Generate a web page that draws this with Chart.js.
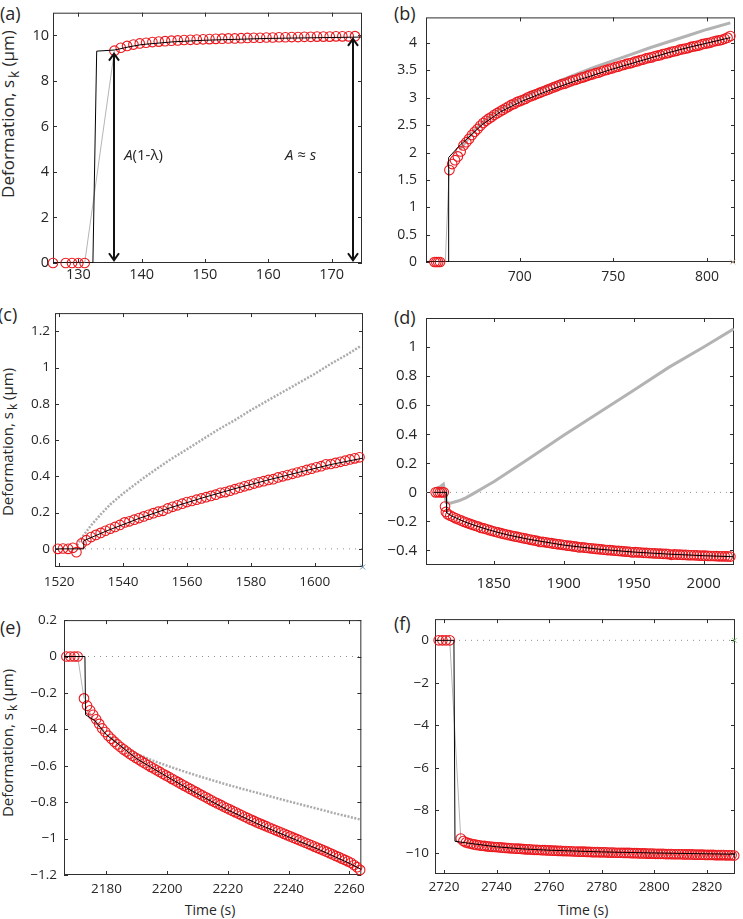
<!DOCTYPE html>
<html>
<head>
<meta charset="utf-8">
<script src="https://cdn.jsdelivr.net/npm/chart.js@4.4.1/dist/chart.umd.min.js"></script>
<style>
  body { margin: 0; background: #fff; width: 743px; height: 919px; position: relative; overflow: hidden;
         font-family: 'Open Sans', sans-serif; color: #262626; }
  .panel { position: absolute; }
  .lab { position: absolute; font-size: 18px; line-height: 1; transform: translateY(-50%); white-space: nowrap; }
  .ylab { position: absolute; white-space: nowrap; line-height: 1; transform: translate(-50%, -50%) rotate(-90deg); }
  .ylab sub { font-size: 0.8em; vertical-align: -0.35em; margin-left: 2px; }
  .xlab { position: absolute; white-space: nowrap; line-height: 1; transform: translate(-50%, -50%); font-size: 14px; }
</style>
</head>
<body>

<div class="lab" style="left:0px; top:13px;">(a)</div>
<div class="lab" style="left:394px; top:13px;">(b)</div>
<div class="lab" style="left:-2px; top:314px;">(c)</div>
<div class="lab" style="left:394px; top:317px;">(d)</div>
<div class="lab" style="left:0px; top:627px;">(e)</div>
<div class="lab" style="left:394px; top:623px;">(f)</div>

<div class="ylab" style="left:10px; top:114px; font-size:17px;">Deformation, s<sub>k</sub> (μm)</div>
<div class="ylab" style="left:10px; top:442px; font-size:15px;">Deformation, s<sub>k</sub> (μm)</div>
<div class="ylab" style="left:10px; top:743px; font-size:15px;">Deformation, s<sub>k</sub> (μm)</div>

<div class="xlab" style="left:210px; top:910px;">Time (s)</div>
<div class="xlab" style="left:583px; top:910px;">Time (s)</div>

<script>
// ---------- data: panel (a) ----------
const aPreT = [126, 128, 129, 130, 131];
const aPreY = [0, 0, 0, 0, 0];
const aRedT0 = 135.7, aRedDt = 1;
const aRedY = [9.33, 9.46, 9.54, 9.60, 9.65, 9.68, 9.71, 9.73, 9.75, 9.77,
               9.78, 9.80, 9.81, 9.82, 9.83, 9.84, 9.85, 9.86, 9.87, 9.87,
               9.88, 9.89, 9.90, 9.90, 9.91, 9.91, 9.92, 9.92, 9.93, 9.93,
               9.94, 9.94, 9.95, 9.95, 9.95, 9.96, 9.96, 9.96, 9.97];
const aFitT = [126, 132.3, 132.9, 135.7, 138, 140, 145, 150, 155, 160, 165, 170, 174.7];
const aFitY = [0, 0, 9.31, 9.36, 9.50, 9.60, 9.72, 9.79, 9.83, 9.87, 9.89, 9.91, 9.93];
const aGrayT = [131, 135.7];
const aGrayY = [0, 9.33];
const aArrowT = [135.7, 173.4];
const aArrowLo = [0.12, 0.12];
const aArrowHi = [9.2, 9.85];
const aNoteT = [140.3, 165.1];
const aNoteY = [4.72, 4.72];
const aNoteText = [[['A', 1], ['(1-λ)', 0]], [['A', 1], [' ≈ ', 0], ['s', 1]]];
const aXTicks = [130, 140, 150, 160, 170];
const aYTicks = [0, 2, 4, 6, 8, 10];

// ---------- data: panel (b) ----------
const bPreT = [654.5, 655.5, 656.5, 657.5];
const bPreY = [0, 0, 0, 0];
const bRedT0 = 662.5, bRedDt = 1.5;
const bRedY = [1.68, 1.79, 1.86, 1.93, 2.02, 2.13, 2.19, 2.25, 2.32, 2.38,
               2.43, 2.49, 2.54, 2.58, 2.62, 2.65, 2.69, 2.72, 2.75, 2.78,
               2.81, 2.84, 2.87, 2.89, 2.92, 2.94, 2.96, 2.98, 3.01, 3.03,
               3.05, 3.07, 3.09, 3.11, 3.13, 3.15, 3.17, 3.19, 3.21, 3.23,
               3.25, 3.26, 3.28, 3.30, 3.32, 3.33, 3.35, 3.37, 3.38, 3.40,
               3.42, 3.43, 3.45, 3.46, 3.48, 3.50, 3.51, 3.53, 3.54, 3.56,
               3.57, 3.59, 3.60, 3.62, 3.63, 3.64, 3.66, 3.67, 3.69, 3.70,
               3.72, 3.73, 3.74, 3.76, 3.77, 3.78, 3.80, 3.81, 3.82, 3.84,
               3.85, 3.86, 3.88, 3.89, 3.90, 3.91, 3.93, 3.94, 3.95, 3.96,
               3.98, 3.99, 4.00, 4.01, 4.03, 4.04, 4.05, 4.06, 4.08, 4.10,
               4.13];
const bFitT = [650, 661.9, 662.1, 668.3, 670, 675, 680, 690, 700, 710, 720, 730, 740, 750, 760, 770, 780, 790, 800, 812.5];
const bFitY = [0, 0, 1.91, 2.14, 2.19, 2.35, 2.51, 2.75, 2.92, 3.06, 3.19, 3.31, 3.42, 3.53, 3.63, 3.73, 3.83, 3.92, 4.00, 4.10];
const bJumpT = [660.3, 662.4];
const bJumpY = [0, 1.68];
const bGrayT = [668, 675, 680, 685, 690, 700, 710, 720, 730, 740, 750, 760, 770, 780, 790, 800, 812.5];
const bGrayY = [2.05, 2.37, 2.55, 2.69, 2.80, 2.98, 3.14, 3.29, 3.43, 3.56, 3.68, 3.80, 3.92, 4.03, 4.14, 4.25, 4.37];
const bMark = [813.8, 0];
const bXTicks = [700, 750, 800];
const bYTicks = [0, 0.5, 1, 1.5, 2, 2.5, 3, 3.5, 4];

// ---------- data: panel (c) ----------
const cPreT = [1519.6, 1521.2, 1522.8, 1524.3, 1525.4];
const cPreY = [0, 0.002, 0, 0.006, -0.018];
const cRedT0 = 1527, cRedDt = 1.5;
const cRedY = [0.030, 0.048, 0.065, 0.077, 0.088, 0.100, 0.111, 0.121, 0.132, 0.146,
               0.152, 0.161, 0.170, 0.179, 0.188, 0.197, 0.205, 0.210, 0.223, 0.232,
               0.240, 0.249, 0.258, 0.264, 0.271, 0.278, 0.285, 0.292, 0.299, 0.309,
               0.313, 0.321, 0.329, 0.337, 0.345, 0.352, 0.360, 0.367, 0.373, 0.380,
               0.384, 0.394, 0.400, 0.407, 0.414, 0.421, 0.428, 0.435, 0.442, 0.450,
               0.456, 0.466, 0.468, 0.474, 0.480, 0.486, 0.493, 0.499, 0.505];
const cFitT = [1518.7, 1527.5, 1527.7, 1535, 1545, 1555, 1565, 1575, 1585, 1595, 1605, 1615];
const cFitY = [0, 0, 0.045, 0.100, 0.168, 0.228, 0.282, 0.332, 0.378, 0.422, 0.465, 0.500];
const cGrayT = [1525.6, 1527, 1530, 1533, 1536, 1540, 1546, 1550, 1555, 1561, 1565, 1570, 1575, 1580, 1585, 1590, 1595, 1600, 1605, 1610, 1614.5];
const cGrayY = [0.02, 0.06, 0.13, 0.19, 0.245, 0.305, 0.385, 0.435, 0.495, 0.56, 0.605, 0.66, 0.71, 0.765, 0.815, 0.865, 0.915, 0.965, 1.02, 1.07, 1.12];
const cMark = [1615, -0.1];
const cXTicks = [1520, 1540, 1560, 1580, 1600];
const cYTicks = [0, 0.2, 0.4, 0.6, 0.8, 1, 1.2];

// ---------- data: panel (d) ----------
const dPreT = [1808.5, 1810, 1811.5, 1813, 1814.3, 1815.2, 1815.8];
const dPreY = [0, 0.003, 0, 0.002, 0, -0.098, -0.135];
const dRedT0 = 1817, dRedDt = 2;
const dRedY = [-0.150, -0.160, -0.170, -0.179, -0.187, -0.195, -0.203, -0.210, -0.217, -0.224,
               -0.230, -0.236, -0.245, -0.248, -0.254, -0.260, -0.266, -0.271, -0.276, -0.281,
               -0.286, -0.290, -0.295, -0.299, -0.303, -0.307, -0.311, -0.315, -0.319, -0.323,
               -0.327, -0.331, -0.334, -0.341, -0.341, -0.344, -0.347, -0.350, -0.353, -0.356,
               -0.358, -0.361, -0.364, -0.367, -0.369, -0.372, -0.374, -0.379, -0.378, -0.381,
               -0.383, -0.385, -0.387, -0.389, -0.391, -0.393, -0.395, -0.397, -0.398, -0.400,
               -0.402, -0.403, -0.405, -0.406, -0.408, -0.409, -0.413, -0.412, -0.413, -0.414,
               -0.416, -0.417, -0.418, -0.419, -0.420, -0.421, -0.422, -0.423, -0.424, -0.425,
               -0.430, -0.427, -0.428, -0.429, -0.430, -0.431, -0.432, -0.433, -0.433, -0.434,
               -0.435, -0.436, -0.436, -0.437, -0.438, -0.438, -0.439, -0.440, -0.440, -0.441,
               -0.441, -0.442];
const dFitT = [1807, 1816.1, 1816.3, 1820, 1830, 1840, 1850, 1860, 1875, 1900, 1925, 1950, 1975, 2000, 2021];
const dFitY = [0, 0, -0.14, -0.163, -0.206, -0.239, -0.268, -0.293, -0.323, -0.363, -0.391, -0.411, -0.425, -0.436, -0.443];
const dGrayT = [1809.3, 1814, 1816, 1819, 1825, 1830, 1837, 1845, 1850, 1875, 1900, 1925, 1950, 1975, 2000, 2021.5];
const dGrayY = [0.02, 0.055, -0.07, -0.075, -0.058, -0.038, 0, 0.045, 0.073, 0.232, 0.393, 0.548, 0.703, 0.86, 1.0, 1.125];
const dXTicks = [1850, 1900, 1950, 2000];
const dYTicks = [-0.4, -0.2, 0, 0.2, 0.4, 0.6, 0.8, 1];

// ---------- data: panel (e) ----------
const ePreT = [2166.8, 2168.1, 2169.4, 2170.5];
const ePreY = [0, 0, 0, 0];
const eRedT0 = 2172.6, eRedDt = 1;
const eRedY = [-0.230, -0.270, -0.295, -0.320, -0.345, -0.370, -0.395, -0.415, -0.435, -0.452,
               -0.468, -0.483, -0.497, -0.510, -0.522, -0.534, -0.545, -0.556, -0.566, -0.576,
               -0.586, -0.596, -0.606, -0.615, -0.625, -0.634, -0.644, -0.653, -0.662, -0.672,
               -0.681, -0.690, -0.700, -0.709, -0.718, -0.727, -0.736, -0.745, -0.754, -0.763,
               -0.772, -0.781, -0.790, -0.799, -0.807, -0.815, -0.824, -0.832, -0.840, -0.848,
               -0.856, -0.864, -0.872, -0.880, -0.888, -0.896, -0.903, -0.911, -0.918, -0.925,
               -0.932, -0.939, -0.946, -0.953, -0.960, -0.967, -0.974, -0.981, -0.988, -0.995,
               -1.002, -1.009, -1.016, -1.023, -1.030, -1.037, -1.044, -1.051, -1.058, -1.065,
               -1.072, -1.080, -1.087, -1.095, -1.102, -1.110, -1.117, -1.125, -1.133, -1.145,
               -1.157, -1.172];
const eFitT = [2166, 2172.9, 2173.1, 2176, 2178, 2180, 2190, 2200, 2210, 2220, 2230, 2240, 2250, 2260, 2264];
const eFitY = [0, 0, -0.32, -0.35, -0.39, -0.43, -0.562, -0.66, -0.755, -0.843, -0.92, -0.99, -1.06, -1.135, -1.17];
const eJumpT = [2170.5, 2172.6];
const eJumpY = [0, -0.23];
const eGrayT = [2173, 2176, 2180, 2185, 2190, 2195, 2200, 2205, 2210, 2215, 2220, 2225, 2230, 2235, 2240, 2245, 2250, 2255, 2260, 2264];
const eGrayY = [-0.28, -0.35, -0.43, -0.49, -0.535, -0.57, -0.60, -0.628, -0.655, -0.68, -0.705, -0.728, -0.75, -0.773, -0.795, -0.817, -0.838, -0.86, -0.88, -0.897];
const eXTicks = [2180, 2200, 2220, 2240, 2260];
const eYTicks = [-1.2, -1, -0.8, -0.6, -0.4, -0.2, 0, 0.2];

// ---------- data: panel (f) ----------
const fPreT = [2718, 2719.4, 2720.8, 2722.2];
const fPreY = [0, 0, 0, 0];
const fRedT0 = 2726.4, fRedDt = 1;
const fRedY = [-9.33, -9.45, -9.51, -9.55, -9.58, -9.61, -9.63, -9.65, -9.67, -9.68,
               -9.70, -9.71, -9.72, -9.73, -9.74, -9.75, -9.76, -9.77, -9.78, -9.79,
               -9.80, -9.81, -9.81, -9.82, -9.83, -9.84, -9.84, -9.85, -9.86, -9.86,
               -9.87, -9.88, -9.88, -9.89, -9.89, -9.90, -9.90, -9.91, -9.91, -9.92,
               -9.92, -9.93, -9.93, -9.94, -9.94, -9.95, -9.95, -9.95, -9.96, -9.96,
               -9.97, -9.97, -9.97, -9.98, -9.98, -9.98, -9.99, -9.99, -9.99, -10.00,
               -10.00, -10.00, -10.01, -10.01, -10.01, -10.02, -10.02, -10.02, -10.03, -10.03,
               -10.03, -10.04, -10.04, -10.04, -10.05, -10.05, -10.05, -10.05, -10.06, -10.06,
               -10.06, -10.07, -10.07, -10.07, -10.07, -10.08, -10.08, -10.08, -10.08, -10.09,
               -10.09, -10.09, -10.09, -10.10, -10.10, -10.10, -10.10, -10.11, -10.11, -10.11,
               -10.11, -10.12, -10.12, -10.12, -10.13];
const fFitT = [2716.6, 2723.8, 2724.2, 2730, 2740, 2750, 2760, 2780, 2800, 2820, 2831];
const fFitY = [0, 0, -9.46, -9.56, -9.72, -9.82, -9.88, -9.96, -10.01, -10.05, -10.07];
const fJumpT = [2722.2, 2726.4];
const fJumpY = [0, -9.33];
const fMark = [2830.5, 0];
const fXTicks = [2720, 2740, 2760, 2780, 2800, 2820];
const fYTicks = [-10, -8, -6, -4, -2, 0];

// ---------- layout / styles ----------
const RED = 'rgb(235,25,30)';
const INK = '#262626';
Chart.defaults.font.family = "'Open Sans', sans-serif";
Chart.defaults.color = INK;

function pairs(ts, ys) { return ts.map((t, i) => ({ x: t, y: ys[i] })); }
function run(t0, dt, ys) { return ys.map((y, i) => ({ x: t0 + i * dt, y: y })); }
const fmt = v => String(v).replace('-', '\u2212');

function circles(pts) {
  return { data: pts, showLine: false, pointStyle: 'circle', pointRadius: 4.8, pointBorderWidth: 1.1,
           pointBorderColor: RED, pointBackgroundColor: 'rgba(0,0,0,0)', clip: false };
}
function line(pts, color, width, dash) {
  return { data: pts, showLine: true, pointRadius: 0, borderColor: color, borderWidth: width,
           borderDash: dash || [], tension: 0, fill: false };
}
function mark(p, color) {
  return { data: [{ x: p[0], y: p[1] }], showLine: false, pointStyle: 'crossRot', pointRadius: 3.5,
           pointBorderColor: color, pointBorderWidth: 1, clip: false };
}
function zero(min, max) { return line([{ x: min, y: 0 }, { x: max, y: 0 }], '#8f8f8f', 1, [1, 5]); }

// box with inward ticks on all four sides
const frame = {
  id: 'frame',
  beforeDatasetsDraw(chart) {
    const { ctx, chartArea: a, scales: { x, y } } = chart;
    const L = 4;
    ctx.save();
    ctx.strokeStyle = '#2e2e2e';
    ctx.lineWidth = 1;
    ctx.strokeRect(a.left + 0.5, a.top + 0.5, a.width - 1, a.height - 1);
    ctx.beginPath();
    x.ticks.forEach(t => {
      const p = Math.round(x.getPixelForValue(t.value)) + 0.5;
      ctx.moveTo(p, a.bottom); ctx.lineTo(p, a.bottom - L);
      ctx.moveTo(p, a.top); ctx.lineTo(p, a.top + L);
    });
    y.ticks.forEach(t => {
      const p = Math.round(y.getPixelForValue(t.value)) + 0.5;
      ctx.moveTo(a.left, p); ctx.lineTo(a.left + L, p);
      ctx.moveTo(a.right, p); ctx.lineTo(a.right - L, p);
    });
    ctx.stroke();
    ctx.restore();
  }
};

function panel(p, sets, xTicks, yTicks, extra) {
  const div = document.createElement('div');
  div.className = 'panel';
  const W = p.yw + p.w + p.pr, H = p.pt + p.h + p.xh;
  div.style.left = (p.left - p.yw) + 'px';
  div.style.top = (p.top - p.pt) + 'px';
  div.style.width = W + 'px';
  div.style.height = H + 'px';
  const cv = document.createElement('canvas');
  cv.width = W; cv.height = H;
  div.appendChild(cv);
  document.body.appendChild(div);
  return new Chart(cv, {
    type: 'scatter',
    data: { datasets: sets },
    options: {
      responsive: false, animation: false, events: [],
      layout: { autoPadding: false, padding: { top: p.pt, right: p.pr, left: 0, bottom: 0 } },
      plugins: { legend: { display: false }, tooltip: { enabled: false } },
      scales: {
        x: {
          type: 'linear', min: p.xmin, max: p.xmax,
          grid: { display: false, drawTicks: false }, border: { display: false },
          ticks: { padding: p.xpad, font: { size: p.font }, color: INK, maxRotation: 0, minRotation: 0,
                   autoSkip: false, callback: fmt },
          afterBuildTicks: s => { s.ticks = xTicks.map(v => ({ value: v })); },
          afterFit: s => { s.height = p.xh; }
        },
        y: {
          type: 'linear', min: p.ymin, max: p.ymax,
          grid: { display: false, drawTicks: false }, border: { display: false },
          ticks: { padding: p.ypad, font: { size: p.font }, color: INK, autoSkip: false, callback: fmt },
          afterBuildTicks: s => { s.ticks = yTicks.map(v => ({ value: v })); },
          afterFit: s => { s.width = p.yw; }
        }
      }
    },
    plugins: [frame].concat(extra || [])
  });
}

// arrows and labels of panel (a)
function richText(ctx, parts, cx, cy, size) {
  const fonts = parts.map(q => (q[1] ? 'italic ' : '') + size + "px 'Open Sans', sans-serif");
  let w = 0;
  const ws = parts.map((q, i) => { ctx.font = fonts[i]; const m = ctx.measureText(q[0]).width; w += m; return m; });
  let xx = cx - w / 2;
  ctx.textBaseline = 'middle'; ctx.textAlign = 'left'; ctx.fillStyle = INK;
  parts.forEach((q, i) => { ctx.font = fonts[i]; ctx.fillText(q[0], xx, cy); xx += ws[i]; });
}
const aNotes = {
  id: 'aNotes',
  afterDatasetsDraw(chart) {
    const { ctx, scales: { x, y } } = chart;
    ctx.save();
    ctx.strokeStyle = '#111'; ctx.lineWidth = 2;
    aArrowT.forEach((t, i) => {
      const px = Math.round(x.getPixelForValue(t));
      const lo = y.getPixelForValue(aArrowLo[i]), hi = y.getPixelForValue(aArrowHi[i]);
      ctx.beginPath();
      ctx.moveTo(px, lo); ctx.lineTo(px, hi);
      ctx.moveTo(px - 5, hi + 7); ctx.lineTo(px, hi); ctx.lineTo(px + 5, hi + 7);
      ctx.moveTo(px - 5, lo - 7); ctx.lineTo(px, lo); ctx.lineTo(px + 5, lo - 7);
      ctx.stroke();
    });
    aNoteT.forEach((t, i) => richText(ctx, aNoteText[i], x.getPixelForValue(t), y.getPixelForValue(aNoteY[i]), 15));
    ctx.restore();
  }
};

const P = {
  a: { left: 53, top: 3, w: 309, h: 260, yw: 53, pt: 3, pr: 10, xh: 30, xmin: 126, xmax: 174.8, ymin: 0, ymax: 11, font: 14.5, xpad: 3, ypad: 4 },
  b: { left: 426, top: 3, w: 309, h: 259, yw: 50, pt: 3, pr: 8, xh: 30, xmin: 650, xmax: 815, ymin: 0, ymax: 4.47, font: 14, xpad: 7, ypad: 9 },
  c: { left: 55, top: 306, w: 308, h: 261, yw: 55, pt: 6, pr: 9, xh: 30, xmin: 1518.7, xmax: 1615.1, ymin: -0.1, ymax: 1.3, font: 13.5, xpad: 7, ypad: 5 },
  d: { left: 426, top: 305, w: 308, h: 260, yw: 50, pt: 5, pr: 9, xh: 32, xmin: 1801.6, xmax: 2021.6, ymin: -0.5, ymax: 1.2, font: 15, xpad: 10, ypad: 9 },
  e: { left: 64, top: 615, w: 298, h: 260, yw: 64, pt: 10, pr: 9, xh: 26, xmin: 2166, xmax: 2264, ymin: -1.2, ymax: 0.2, font: 13.5, xpad: 6, ypad: 7 },
  f: { left: 435, top: 615, w: 300, h: 259, yw: 55, pt: 10, pr: 8, xh: 26, xmin: 2716.6, xmax: 2830.7, ymin: -11, ymax: 1, font: 13.5, xpad: 5, ypad: 6 }
};

const GRAY = '#b5b5b5';

panel(P.a, [
  line(pairs(aFitT, aFitY), '#000', 1),
  circles(pairs(aPreT, aPreY).concat(run(aRedT0, aRedDt, aRedY))),
  line(pairs(aGrayT, aGrayY), GRAY, 1)
], aXTicks, aYTicks, [aNotes]);

panel(P.b, [
  line(pairs(bFitT, bFitY), '#000', 1),
  circles(pairs(bPreT, bPreY).concat(run(bRedT0, bRedDt, bRedY))),
  mark(bMark, '#c9ae98'),
  line(pairs(bJumpT, bJumpY), GRAY, 1),
  line(pairs(bGrayT, bGrayY), '#b3b3b3', 3)
], bXTicks, bYTicks);

panel(P.c, [
  line(pairs(cFitT, cFitY), '#000', 1),
  circles(pairs(cPreT, cPreY).concat(run(cRedT0, cRedDt, cRedY))),
  mark(cMark, '#6f8fae'),
  line(pairs(cGrayT, cGrayY), '#ababab', 2.5, [2, 1.5]),
  zero(P.c.xmin, P.c.xmax)
], cXTicks, cYTicks);

panel(P.d, [
  line(pairs(dFitT, dFitY), '#000', 1),
  circles(pairs(dPreT, dPreY).concat(run(dRedT0, dRedDt, dRedY))),
  line(pairs(dGrayT, dGrayY), '#b3b3b3', 3),
  zero(P.d.xmin, P.d.xmax)
], dXTicks, dYTicks);

panel(P.e, [
  line(pairs(eFitT, eFitY), '#000', 1),
  circles(pairs(ePreT, ePreY).concat(run(eRedT0, eRedDt, eRedY))),
  line(pairs(eJumpT, eJumpY), GRAY, 1),
  line(pairs(eGrayT, eGrayY), '#ababab', 2.5, [2, 1.5]),
  zero(P.e.xmin, P.e.xmax)
], eXTicks, eYTicks);

panel(P.f, [
  line(pairs(fFitT, fFitY), '#000', 1),
  circles(pairs(fPreT, fPreY).concat(run(fRedT0, fRedDt, fRedY))),
  mark(fMark, '#8ccf7a'),
  line(pairs(fJumpT, fJumpY), GRAY, 1),
  zero(P.f.xmin, P.f.xmax)
], fXTicks, fYTicks);
</script>
</body>
</html>
